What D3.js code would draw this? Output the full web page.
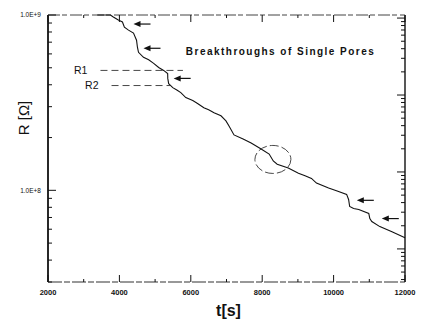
<!DOCTYPE html>
<html>
<head>
<meta charset="utf-8">
<script src="https://cdn.jsdelivr.net/npm/d3@7"></script>
<style>
  body { margin: 0; background: #fff; }
  text { font-family: Arial, "Liberation Sans", sans-serif; fill: #111; }
</style>
</head>
<body>
<svg id="chart" width="421" height="320"></svg>
<script>
// resistance curve
var times = [3380, 3750, 3830, 3970, 4085, 4140, 4255, 4395, 4480, 4505, 4535,
  4675, 4820, 4960, 5100, 5240, 5352, 5355, 5380, 5495, 5620, 5720, 5860, 6055,
  6200, 6365, 6500, 6650, 6845, 6985, 7070, 7210, 7465, 7690, 7970, 8195, 8310,
  8420, 8730, 9015, 9200, 9380, 9520, 9860, 10100, 10365, 10420, 10450, 10560,
  10705, 10985, 11015, 11070, 11295, 11635, 12000];
var resist = [1.0e9, 1.0e9, 9.74e8, 9.36e8, 9.12e8, 8.53e8, 8.2e8, 7.88e8, 7.18e8,
  6.55e8, 6.13e8, 5.74e8, 5.55e8, 5.3e8, 5.02e8, 4.83e8, 4.64e8, 4.35e8, 4.06e8,
  3.85e8, 3.72e8, 3.61e8, 3.38e8, 3.25e8, 3.12e8, 2.96e8, 2.88e8, 2.77e8, 2.66e8,
  2.49e8, 2.33e8, 2.07e8, 1.96e8, 1.86e8, 1.72e8, 1.61e8, 1.47e8, 1.41e8, 1.34e8,
  1.25e8, 1.21e8, 1.17e8, 1.1e8, 1.03e8, 9.9e7, 9.48e7, 8.87e7, 8.09e7, 7.88e7,
  7.78e7, 7.38e7, 6.9e7, 6.64e7, 6.21e7, 5.81e7, 5.37e7];

// arrows marking breakthroughs (head position)
var arrowT = [4395, 4675, 5520, 10650, 11350];
var arrowR = [8.88e8, 6.46e8, 4.35e8, 8.77e7, 6.9e7];

// R1 / R2 levels
var levelNames = ["R1", "R2"];
var levelR = [4.83e8, 3.96e8];
var levelT0 = [3470, 3780];
var levelT1 = [5780, 5420];

var circleT = 8300;
var circleR = 1.5e8;

var xTicks = [2000, 4000, 6000, 8000, 10000, 12000];
var xMinor = [3000, 5000, 7000, 9000, 11000];
var yTicks = [1e8, 1e9];

var dimensions = {
  width: 421,
  height: 320,
  margin: { top: 15, right: 16, bottom: 38, left: 48 },
};
dimensions.boundedWidth =
  dimensions.width - dimensions.margin.left - dimensions.margin.right;
dimensions.boundedHeight =
  dimensions.height - dimensions.margin.top - dimensions.margin.bottom;

var svg = d3.select("#chart");
var bounds = svg
  .append("g")
  .attr("transform", `translate(${dimensions.margin.left},${dimensions.margin.top})`);

var xScale = d3.scaleLinear().domain([2000, 12000]).range([0, dimensions.boundedWidth]);
var yScale = d3.scaleLog().domain([3e7, 1e9]).range([dimensions.boundedHeight, 0]);
// right axis in the scan has its own log decades
var yRight = d3
  .scaleLog()
  .domain([Math.pow(10, -0.43), Math.pow(10, 3.04)])
  .range([dimensions.boundedHeight, 0]);

var ink = "#111";

// frame
bounds.append("line").attr("x1", 0).attr("x2", 0).attr("y1", 0)
  .attr("y2", dimensions.boundedHeight).attr("stroke", ink).attr("stroke-width", 1.8);
bounds.append("line").attr("x1", dimensions.boundedWidth).attr("x2", dimensions.boundedWidth)
  .attr("y1", 0).attr("y2", dimensions.boundedHeight).attr("stroke", ink).attr("stroke-width", 1.4);
bounds.append("line").attr("x1", 0).attr("x2", dimensions.boundedWidth).attr("y1", 0).attr("y2", 0)
  .attr("stroke", "#444").attr("stroke-width", 1).attr("stroke-dasharray", "12,2,5,3");
bounds.append("line").attr("x1", 0).attr("x2", dimensions.boundedWidth)
  .attr("y1", dimensions.boundedHeight).attr("y2", dimensions.boundedHeight)
  .attr("stroke", "#333").attr("stroke-width", 1.1).attr("stroke-dasharray", "14,2,6,2");

// x ticks, bottom and top, pointing inward
var xAll = xTicks.concat(xMinor);
bounds.selectAll(".xtb").data(xAll).enter().append("line")
  .attr("x1", (d) => xScale(d)).attr("x2", (d) => xScale(d))
  .attr("y1", dimensions.boundedHeight)
  .attr("y2", (d) => dimensions.boundedHeight - (xTicks.includes(d) ? 7 : 3))
  .attr("stroke", ink).attr("stroke-width", 1);
bounds.selectAll(".xtt").data(xAll).enter().append("line")
  .attr("x1", (d) => xScale(d)).attr("x2", (d) => xScale(d))
  .attr("y1", 0)
  .attr("y2", (d) => (xTicks.includes(d) ? 7 : 3))
  .attr("stroke", ink).attr("stroke-width", 1);

bounds.selectAll(".xlab").data(xTicks).enter().append("text")
  .attr("x", (d) => xScale(d))
  .attr("y", dimensions.boundedHeight + 13)
  .attr("text-anchor", "middle")
  .style("font-size", "7.5px").style("font-weight", "bold")
  .text((d) => d);

// left y ticks
bounds.selectAll(".ytl").data(yScale.ticks()).enter().append("line")
  .attr("x1", 0).attr("x2", (d) => (yTicks.includes(d) ? 8 : 4))
  .attr("y1", (d) => yScale(d)).attr("y2", (d) => yScale(d))
  .attr("stroke", ink).attr("stroke-width", 1);
bounds.selectAll(".ylab").data(yTicks).enter().append("text")
  .attr("x", -7).attr("y", (d) => yScale(d)).attr("dy", "0.35em")
  .attr("text-anchor", "end")
  .style("font-size", "6.5px")
  .text((d) => "1.0E+" + Math.round(Math.log10(d)));

// right y ticks
var rightMajor = [1, 10, 100, 1000];
bounds.selectAll(".ytr").data(yRight.ticks()).enter().append("line")
  .attr("x1", dimensions.boundedWidth)
  .attr("x2", (d) => dimensions.boundedWidth - (rightMajor.includes(d) ? 8 : 4))
  .attr("y1", (d) => yRight(d)).attr("y2", (d) => yRight(d))
  .attr("stroke", ink).attr("stroke-width", 1);

// curve
var curve = times.map((t, i) => [t, resist[i]]);
bounds.append("path")
  .datum(curve)
  .attr("fill", "none").attr("stroke", ink).attr("stroke-width", 1.1)
  .attr("d", d3.line().x((d) => xScale(d[0])).y((d) => yScale(d[1])));

// R1, R2 dashed levels
levelNames.forEach(function (name, i) {
  bounds.append("line")
    .attr("x1", xScale(levelT0[i])).attr("x2", xScale(levelT1[i]))
    .attr("y1", yScale(levelR[i])).attr("y2", yScale(levelR[i]))
    .attr("stroke", "#333").attr("stroke-width", 0.9).attr("stroke-dasharray", "7,4");
  bounds.append("text")
    .attr("x", xScale(levelT0[i]) - 13).attr("y", yScale(levelR[i])).attr("dy", "0.35em")
    .attr("text-anchor", "end")
    .style("font-size", "10.5px")
    .text(name);
});

// arrows
arrowT.forEach(function (t, i) {
  var hx = xScale(t), hy = yScale(arrowR[i]);
  bounds.append("line")
    .attr("x1", hx + 4).attr("x2", hx + 17).attr("y1", hy).attr("y2", hy)
    .attr("stroke", ink).attr("stroke-width", 1.2);
  bounds.append("path")
    .attr("d", `M${hx},${hy}L${hx + 7},${hy - 3}L${hx + 7},${hy + 3}Z`)
    .attr("fill", ink);
});

// dashed circle
bounds.append("ellipse")
  .attr("cx", xScale(circleT)).attr("cy", yScale(circleR))
  .attr("rx", 18).attr("ry", 14)
  .attr("fill", "none").attr("stroke", "#333").attr("stroke-width", 0.9)
  .attr("stroke-dasharray", "9,3");

// annotation
bounds.append("text")
  .attr("x", xScale(6000) - 5).attr("y", 40)
  .attr("textLength", 188)
  .style("font-size", "10px").style("font-weight", "bold")
  .text("Breakthroughs of Single Pores");

// axis labels
svg.append("text")
  .attr("transform", "translate(29,118) rotate(-90)")
  .attr("text-anchor", "middle")
  .style("font-size", "15px")
  .text("R [Ω]");

svg.append("text")
  .attr("x", dimensions.margin.left + dimensions.boundedWidth / 2 + 2)
  .attr("y", 316)
  .attr("text-anchor", "middle")
  .style("font-size", "16px").style("font-weight", "bold")
  .text("t[s]");
</script>
</body>
</html>
